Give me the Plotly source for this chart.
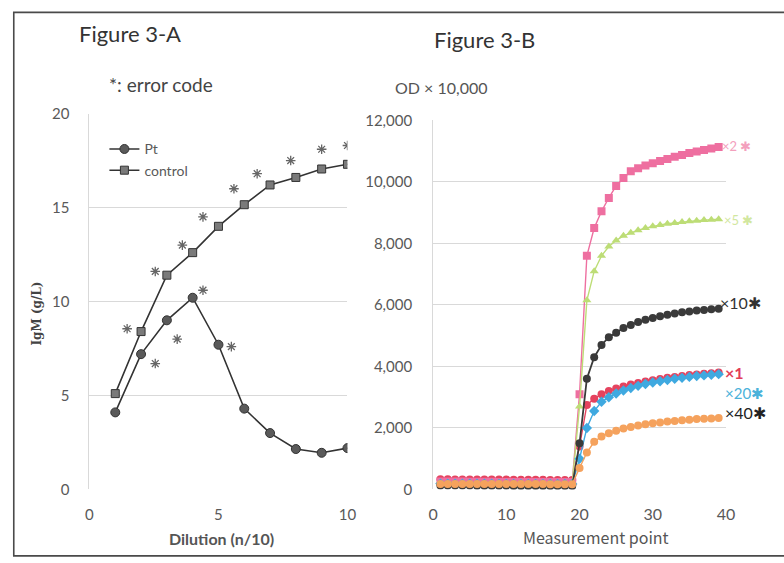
import plotly.graph_objects as go

W, H = 784, 563
# empirical correction of the page-to-screenshot mapping
def px(x): return ((x - 3.2) / 0.986) / W
def py(y): return 1 - ((y - 5.6) / 0.976) / H

# ---------------- Figure 3-A data ----------------
dilution = [1, 2, 3, 4, 5, 6, 7, 8, 9, 10]
pt_igm = [4.1, 7.2, 9.0, 10.2, 7.7, 4.3, 3.0, 2.15, 1.95, 2.2]
control_igm = [5.1, 8.4, 11.4, 12.6, 14.0, 15.15, 16.2, 16.6, 17.05, 17.3]
err_x = [1.46, 2.55, 3.6, 4.4, 5.6, 6.5, 7.8, 9.0, 10.0, 2.55, 3.4, 4.4, 5.5]
err_y = [8.55, 11.6, 13.0, 14.5, 16.0, 16.8, 17.5, 18.1, 18.3, 6.7, 8.0, 10.6, 7.6]
a_yticks = [0, 5, 10, 15, 20]
a_xticks = [0, 5, 10]

# ---------------- Figure 3-B data ----------------
points = list(range(1, 40))
s_x1 = [330, 330, 325, 325, 325, 320, 320, 320, 320, 320, 315, 315, 315, 315, 315, 310, 310, 310, 310,
        1400, 2750, 2950, 3100, 3200, 3280, 3350, 3410, 3460, 3510, 3550, 3590, 3630, 3660, 3690, 3720, 3740, 3760, 3780, 3800]
s_x2 = [260, 260, 255, 255, 250, 250, 250, 250, 245, 245, 245, 245, 245, 240, 240, 240, 240, 240, 240,
        3100, 7600, 8500, 9050, 9480, 9870, 10130, 10350, 10450, 10540, 10610, 10680, 10750, 10820, 10880, 10940, 10990, 11040, 11090, 11140]
s_x5 = [220, 220, 215, 215, 215, 210, 210, 210, 210, 205, 205, 205, 205, 200, 200, 200, 200, 200, 200,
        2700, 6150, 7100, 7600, 7900, 8100, 8250, 8350, 8430, 8500, 8560, 8600, 8640, 8670, 8700, 8720, 8740, 8760, 8770, 8790]
s_x20 = [190, 190, 190, 185, 185, 185, 185, 185, 180, 180, 180, 180, 180, 180, 175, 175, 175, 175, 175,
         1000, 2000, 2550, 2850, 3000, 3120, 3220, 3300, 3370, 3430, 3480, 3520, 3560, 3600, 3630, 3660, 3690, 3710, 3730, 3750]
s_x10 = [130, 130, 125, 125, 125, 120, 120, 120, 120, 120, 115, 115, 115, 115, 115, 110, 110, 110, 110,
         1500, 3600, 4300, 4700, 4950, 5100, 5250, 5350, 5450, 5520, 5580, 5630, 5680, 5720, 5760, 5790, 5820, 5840, 5860, 5880]
s_x40 = [180, 180, 180, 178, 178, 178, 176, 176, 176, 175, 175, 175, 174, 174, 174, 172, 172, 172, 172,
         700, 1200, 1550, 1720, 1830, 1910, 1980, 2030, 2080, 2120, 2150, 2180, 2210, 2230, 2250, 2270, 2290, 2300, 2310, 2320]
b_yticks = [0, 2000, 4000, 6000, 8000, 10000, 12000]
b_ytext = ["0", "2,000", "4,000", "6,000", "8,000", "10,000", "12,000"]
b_xticks = [0, 10, 20, 30, 40]

FONT = "Lato, Open Sans, sans-serif"
TICKC = "#595959"
GRID = "#d9d9d9"

fig = go.Figure()

# left chart
fig.add_trace(go.Scatter(x=dilution, y=pt_igm, name="Pt", mode="lines+markers",
                         line=dict(color="#333333", width=1.6),
                         marker=dict(symbol="circle", size=9, color="#5a5a5a", line=dict(color="#333333", width=1)),
                         xaxis="x", yaxis="y"))
fig.add_trace(go.Scatter(x=dilution, y=control_igm, name="control", mode="lines+markers",
                         line=dict(color="#333333", width=1.6),
                         marker=dict(symbol="square", size=8, color="#7a7a7a", line=dict(color="#333333", width=1)),
                         xaxis="x", yaxis="y"))
fig.add_trace(go.Scatter(x=err_x, y=err_y, mode="markers", showlegend=False,
                         marker=dict(symbol="asterisk-open", size=8, color="#666666", line=dict(color="#555555", width=1.3)),
                         xaxis="x", yaxis="y"))

# right chart
def add_b(vals, color, symbol, size=8, lw=1.4):
    fig.add_trace(go.Scatter(x=points, y=vals, mode="lines+markers", showlegend=False,
                             line=dict(color=color, width=lw),
                             marker=dict(symbol=symbol, size=size, color=color),
                             xaxis="x2", yaxis="y2"))

add_b(s_x1, "#e5435f", "circle")
add_b(s_x2, "#ee6fa0", "square", 8)
add_b(s_x5, "#bddd76", "triangle-up", 8)
add_b(s_x20, "#3fa9e0", "diamond", 8)
add_b(s_x10, "#3a3a3a", "circle", 8, 1.8)
add_b(s_x40, "#f5a25d", "circle", 8)

axis_common = dict(showgrid=True, gridcolor=GRID, gridwidth=1, zeroline=False,
                   ticks="", fixedrange=True, showline=True, linecolor=GRID, linewidth=1)

fig.update_layout(
    width=W, height=H, margin=dict(l=0, r=0, t=0, b=0),
    paper_bgcolor="white", plot_bgcolor="white",
    showlegend=True,
    legend=dict(x=px(103), y=py(130), xanchor="left", yanchor="top",
                bgcolor="rgba(0,0,0,0)", font=dict(family=FONT, size=14, color=TICKC),
                itemwidth=30, tracegroupgap=0),
    xaxis=dict(domain=[px(88), px(347)], range=[0, 10], tickvals=a_xticks, showgrid=False,
               zeroline=False, showline=False, ticks="", ticklabelstandoff=15,
               tickfont=dict(family=FONT, size=15, color=TICKC), anchor="y", fixedrange=True),
    yaxis=dict(domain=[py(489), py(110)], range=[0, 20], tickvals=a_yticks, anchor="x",
               ticklabelstandoff=16, tickfont=dict(family=FONT, size=15, color=TICKC), **axis_common),
    xaxis2=dict(domain=[px(433), px(727)], range=[0, 40], tickvals=b_xticks, showgrid=False,
                zeroline=False, showline=False, ticks="", ticklabelstandoff=14,
                tickfont=dict(family=FONT, size=16, color=TICKC), anchor="y2", fixedrange=True),
    yaxis2=dict(domain=[py(489), py(117)], range=[0, 12000], tickvals=b_yticks, ticktext=b_ytext,
                anchor="x2", ticklabelstandoff=17, tickfont=dict(family=FONT, size=15, color=TICKC),
                **axis_common),
)

# outer frame
fig.add_shape(type="rect", xref="paper", yref="paper", x0=px(12), x1=px(800), y0=py(556), y1=py(8),
              line=dict(color="#4a4a4a", width=1.6), fillcolor="rgba(0,0,0,0)", layer="below")

ann = [
    dict(text="Figure 3-A", x=px(75), y=py(29), size=22, color="#333333", xanchor="left"),
    dict(text="*: error code", x=px(106), y=py(81), size=19, color="#444444", xanchor="left"),
    dict(text="Figure 3-B", x=px(432), y=py(35), size=22, color="#333333", xanchor="left"),
    dict(text="OD \u00d7 10,000", x=px(393), y=py(84), size=16, color="#555555", xanchor="left"),
    dict(text="<b>Dilution (n/10)</b>", x=px(221), y=py(538), size=16, color="#555555", xanchor="center"),
    dict(text="Measurement point", x=px(597), y=py(537), size=16, color="#555555", xanchor="center",
         family="Noto Sans CJK JP, sans-serif"),
    dict(text="\u00d72 \u2731", x=px(721), y=py(143), size=13, color="#f3a0bd", xanchor="left"),
    dict(text="\u00d75 \u2731", x=px(723), y=py(217), size=13, color="#d2e79f", xanchor="left"),
    dict(text="\u00d710\u2731", x=px(719), y=py(301), size=16, color="#333333", xanchor="left"),
    dict(text="<b>\u00d71</b>", x=px(724), y=py(371), size=16, color="#e23d57", xanchor="left"),
    dict(text="\u00d720\u2731", x=px(724), y=py(392), size=15, color="#4bb2da", xanchor="left"),
    dict(text="\u00d740\u2731", x=px(724), y=py(411), size=16, color="#222222", xanchor="left"),
]
for a in ann:
    fig.add_annotation(text=a["text"], x=a["x"], y=a["y"], xref="paper", yref="paper",
                       xanchor=a["xanchor"], yanchor="middle", showarrow=False,
                       font=dict(family=a.get("family", FONT), size=a["size"], color=a["color"]))

fig.add_annotation(text="<b>IgM (g/L)</b>", x=px(35), y=py(312), xref="paper", yref="paper",
                   textangle=-90, showarrow=False, xanchor="center", yanchor="middle",
                   font=dict(family="DejaVu Serif, serif", size=12, color="#444444"))

fig.write_html("out.html", config={"displayModeBar": False},
               post_script="document.body.style.margin='0px';document.body.style.padding='0px';"
                           "document.documentElement.style.overflow='hidden';")
